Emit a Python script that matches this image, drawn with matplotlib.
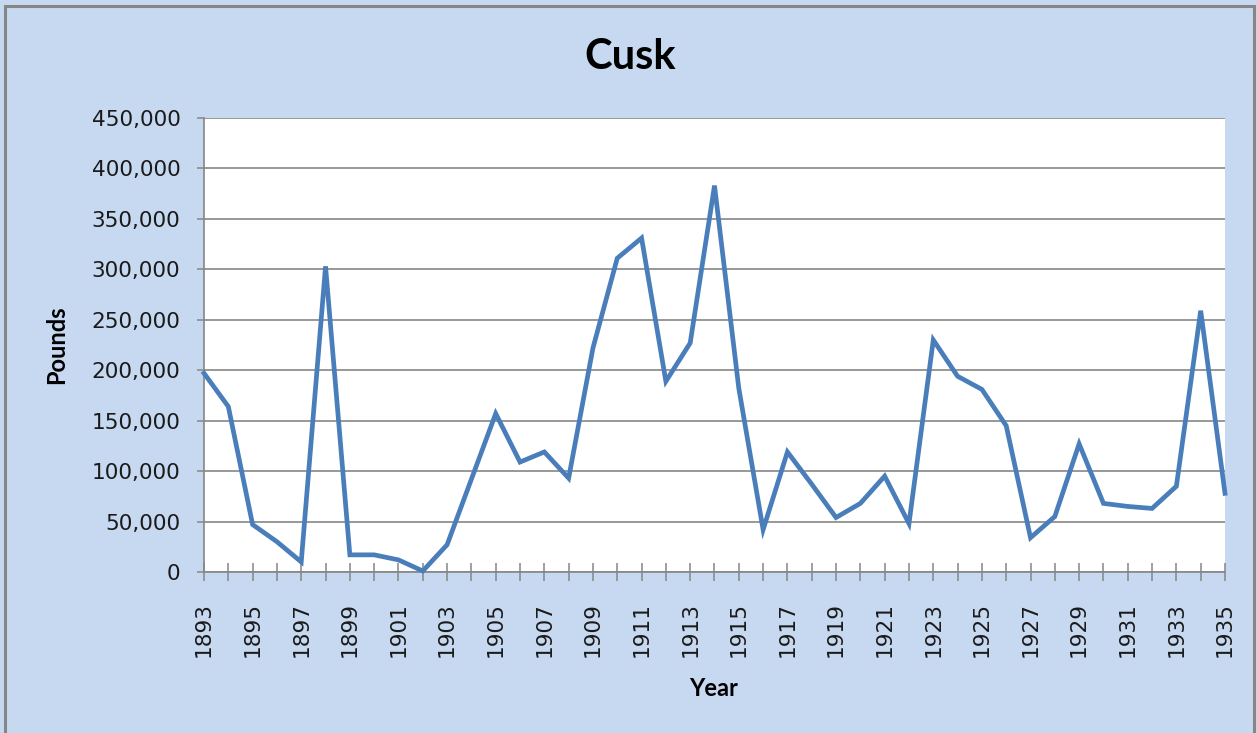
import matplotlib
matplotlib.use("Agg")
import matplotlib.pyplot as plt
from matplotlib.patches import Rectangle
from matplotlib.ticker import FuncFormatter

years = list(range(1893, 1936))
pounds = [197000, 164000, 47000, 30000, 10000, 303000, 17000, 17000, 12000, 1000,
          27000, 92000, 157000, 109000, 119000, 93000, 222000, 311000, 331000, 189000,
          227000, 383000, 182000, 42000, 119000, 87000, 54000, 68000, 95000, 48000,
          230000, 194000, 181000, 145000, 34000, 55000, 127000, 68000, 65000, 63000,
          85000, 259000, 78000]
y_ticks = list(range(0, 450001, 50000))

W, H = 1257, 733
fig = plt.figure(figsize=(W / 100, H / 100), dpi=100)
bg = "#C6D9F0"
fig.patch.set_facecolor(bg)
fig.patches.append(Rectangle((5 / W, -0.01), (1249 / W), 1 - 6 / H + 0.01,
                             transform=fig.transFigure, fill=False,
                             edgecolor="#868686", linewidth=2.2, zorder=10))

left, right, top, bottom = 204, 1225, 118, 572
ax = fig.add_axes([left / W, 1 - bottom / H, (right - left) / W, (bottom - top) / H])
ax.set_facecolor("white")

ax.plot(years, pounds, color="#4A7EBB", linewidth=3.4, solid_joinstyle="miter",
        zorder=3, clip_on=False)

ax.set_xlim(years[0], years[-1])
ax.set_ylim(0, 450000)
ax.set_yticks(y_ticks)
ax.yaxis.set_major_formatter(FuncFormatter(lambda v, p: f"{int(v):,}"))
ax.set_xticks(years)
ax.set_xticklabels([str(y) if (y - years[0]) % 2 == 0 else "" for y in years],
                   rotation=90)

grid_c = "#868686"
ax.grid(axis="y", color=grid_c, linewidth=1.2, zorder=1)
ax.set_axisbelow(True)
for s in ("top", "right"):
    ax.spines[s].set_visible(False)
for s in ("left", "bottom"):
    ax.spines[s].set_color(grid_c)
    ax.spines[s].set_linewidth(1.2)

ax.tick_params(axis="y", direction="out", length=5, width=1.1, color=grid_c,
               pad=12, labelsize=15.6, labelcolor="#1a1a1a")
ax.tick_params(axis="x", direction="inout", length=13, width=1.1, color=grid_c,
               pad=15, labelsize=15.6, labelcolor="#1a1a1a")
for lab in ax.get_yticklabels() + ax.get_xticklabels():
    lab.set_family("DejaVu Sans")

fig.text(630 / W, 1 - 57 / H, "Cusk", ha="center", va="center",
         fontsize=30, fontweight="bold", family="Lato", color="black")
fig.text(57 / W, 1 - 345 / H, "Pounds", ha="center", va="center", rotation=90,
         fontsize=17, fontweight="bold", family="Lato", color="black")
fig.text(714 / W, 1 - 688 / H, "Year", ha="center", va="center",
         fontsize=17, fontweight="bold", family="Lato", color="black")

fig.savefig("out.png", dpi=100, facecolor=bg)
